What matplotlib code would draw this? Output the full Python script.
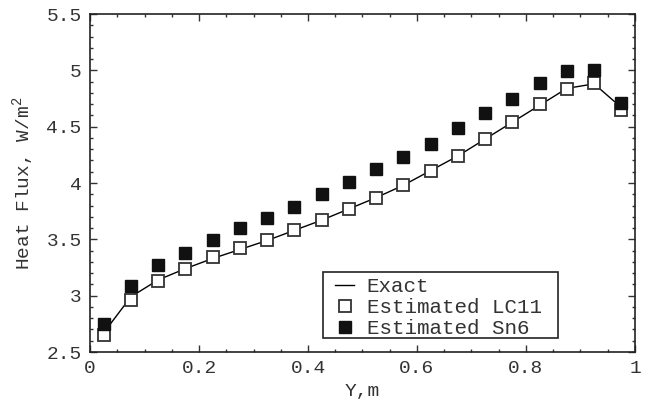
import numpy as np
import matplotlib
matplotlib.use("Agg")
import matplotlib.pyplot as plt
from matplotlib.ticker import MultipleLocator
from matplotlib.patches import Rectangle

plt.rcParams["font.family"] = ["Liberation Mono", "DejaVu Sans Mono"]
plt.rcParams["mathtext.fontset"] = "custom"
plt.rcParams["mathtext.rm"] = "Liberation Mono"

y_pos = [0.025, 0.075, 0.125, 0.175, 0.225, 0.275, 0.325, 0.375, 0.425, 0.475,
         0.525, 0.575, 0.625, 0.675, 0.725, 0.775, 0.825, 0.875, 0.925, 0.975]

exact = [2.67, 2.99, 3.14, 3.24, 3.33, 3.41, 3.49, 3.58, 3.67, 3.77,
         3.87, 3.98, 4.11, 4.24, 4.39, 4.54, 4.69, 4.84, 4.88, 4.67]

lc11 = [2.65, 2.96, 3.13, 3.24, 3.34, 3.42, 3.49, 3.58, 3.67, 3.77,
        3.87, 3.98, 4.11, 4.24, 4.39, 4.54, 4.70, 4.83, 4.89, 4.645]

sn6 = [2.75, 3.09, 3.27, 3.38, 3.49, 3.60, 3.69, 3.79, 3.90, 4.01,
       4.12, 4.23, 4.35, 4.49, 4.62, 4.75, 4.89, 4.99, 5.00, 4.71]

x_ticks = [0, 0.2, 0.4, 0.6, 0.8, 1.0]
x_labels = ["0", "0.2", "0.4", "0.6", "0.8", "1"]
y_ticks = [2.5, 3, 3.5, 4, 4.5, 5, 5.5]
y_labels = ["2.5", "3", "3.5", "4", "4.5", "5", "5.5"]

fig = plt.figure(figsize=(6.49, 4.07), dpi=100)
ax = fig.add_axes([0.1387, 0.1351, 0.8397, 0.8305])

ax.plot(y_pos, exact, color="black", lw=1, label="Exact")
ax.plot(y_pos, lc11, ls="none", marker="s", ms=8.5, mfc="white", mec="#333333",
        mew=1.3, label="Estimated LC11")
ax.plot(y_pos, sn6, ls="none", marker="s", ms=8.3, mfc="#111111", mec="#111111",
        label="Estimated Sn6")

ax.set_xlim(0, 1)
ax.set_ylim(2.5, 5.5)
ax.set_xticks(x_ticks)
ax.set_xticklabels(x_labels)
ax.set_yticks(y_ticks)
ax.set_yticklabels(y_labels)
ax.xaxis.set_minor_locator(MultipleLocator(0.05))
ax.yaxis.set_minor_locator(MultipleLocator(0.1))
ax.tick_params(which="both", direction="in", top=True, right=True,
               labelsize=14, colors="#333333", width=1)
ax.tick_params(which="major", length=5, pad=6)
ax.tick_params(which="minor", length=2.5)
for s in ax.spines.values():
    s.set_linewidth(1.2)
    s.set_color("#222222")

ax.set_xlabel("Y,m", fontsize=14, color="#333333", labelpad=4)
ax.set_ylabel("Heat Flux, W/m$^2$", fontsize=14, color="#333333", labelpad=7)

# legend box: wider on the sides than on top/bottom, so draw the frame separately
box = Rectangle((0.4275, 0.0415), 0.4312, 0.1959, transform=ax.transAxes,
                facecolor="white", edgecolor="#222222", lw=1.2, zorder=4)
ax.add_patch(box)
leg = ax.legend(loc="center left", bbox_to_anchor=(0.4495, 0.1305), fontsize=15,
                frameon=False, handlelength=0.93, handletextpad=0.6,
                borderpad=0.0, labelspacing=0.1, borderaxespad=0)
leg.set_zorder(5)
for t in leg.get_texts():
    t.set_color("#333333")

fig.savefig("out.png", dpi=100)
